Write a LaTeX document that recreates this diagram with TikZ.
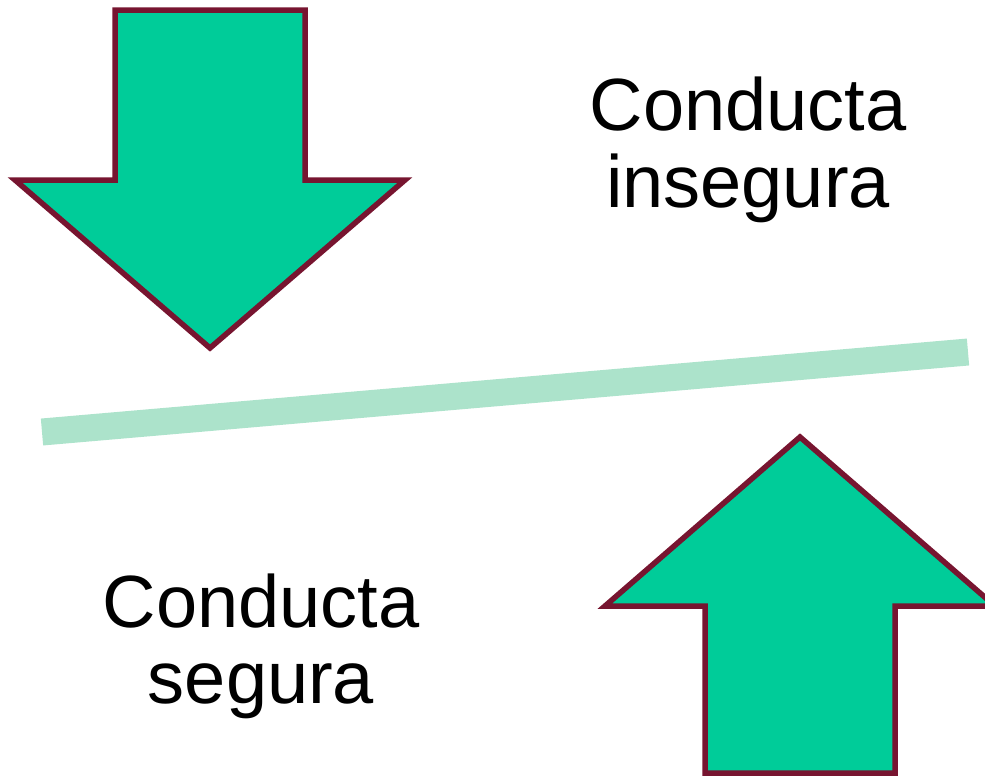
\documentclass[tikz,border=0pt]{standalone}
\usepackage{fontspec}
\setmainfont{Liberation Sans}
\definecolor{arrowfill}{RGB}{0,204,153}
\definecolor{arrowedge}{RGB}{119,21,48}
\definecolor{bandcol}{RGB}{172,227,203}
\tikzset{
  bigarrow/.style={fill=arrowfill, draw=arrowedge, line width=5.5pt, line join=miter},
  lbl/.style={font=\fontsize{74}{78}\selectfont, anchor=base, inner sep=0pt},
}
\begin{document}
\begin{tikzpicture}[x=1pt,y=-1pt]
\useasboundingbox (0,0) rectangle (985,777);
\begin{scope}
\clip (0,0) rectangle (985,777);
% band
\coordinate (bl) at (42,432);
\coordinate (br) at (968,352);
\draw[bandcol, line width=27pt, line cap=butt] (bl) -- (br);
% down arrow
\draw[bigarrow] (115,10) -- (305,10) -- (305,180) -- (405,180) -- (210,348) -- (15,180) -- (115,180) -- cycle;
% up arrow
\draw[bigarrow] (800,437) -- (995,606) -- (895,606) -- (895,773) -- (705,773) -- (705,606) -- (605,606) -- cycle;
\end{scope}
\node[lbl] (t1) at (748,130) {Conducta};
\node[lbl] (t2) at (748,207) {insegura};
\node[lbl] (b1) at (261,627) {Conducta};
\node[lbl] (b2) at (261,703) {segura};
\end{tikzpicture}
\end{document}
